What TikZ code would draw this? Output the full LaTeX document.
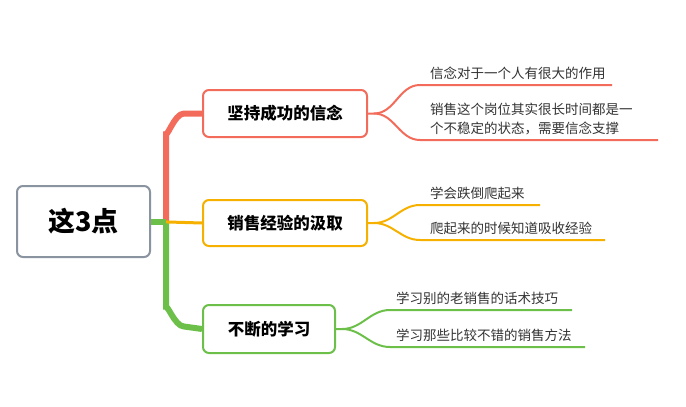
\documentclass[tikz,border=0pt]{standalone}
\usepackage{fontspec}
\setmainfont{Noto Sans CJK SC}
\definecolor{cr}{HTML}{F26B5B}
\definecolor{co}{HTML}{F5B000}
\definecolor{cg}{HTML}{6CC04A}
\definecolor{cgr}{HTML}{8A93A0}
\begin{document}
\begin{tikzpicture}[x=1pt,y=-1pt,
  topic/.style={draw=#1,line width=2pt,rounded corners=6pt,fill=white,font=\bfseries\fontsize{16.5}{19}\selectfont,inner sep=0pt},
  leaf/.style={font=\fontsize{13.5}{19}\selectfont,anchor=south west,inner sep=1pt,align=left,text=black!80},
  ul/.style={line width=2pt,#1}]
\useasboundingbox (0,0) rectangle (686,407);
\node[draw=cgr,line width=2pt,rounded corners=6pt,minimum width=133pt,minimum height=71pt,font=\bfseries\fontsize{27}{30}\selectfont] (root) at (83.5,221.5) {这3点};
\node[topic=cr,minimum width=164pt,minimum height=47pt] (t1) at (285,113.5) {坚持成功的信念};
\node[topic=co,minimum width=164pt,minimum height=46pt] (t2) at (285,223) {销售经验的汲取};
\node[topic=cg,minimum width=132pt,minimum height=48pt] (t3) at (269,329) {不断的学习};
% trunk
\draw[cr,line width=6pt] (root.east) ++(15,0) coordinate (j) -- ++(0,-90) to[out=-90,in=180] ++(18,-18) -- (t1.west);
\draw[cg,line width=6pt] (j) -- ++(0,88) to[out=90,in=180] ++(18,17) -- (t3.west);
\draw[co,line width=3pt] (root.east) -- (t2.west);
\draw[cg,line width=6pt] (root.east) -- (j);
% leaves 1
\coordinate (a1) at (420,85); \coordinate (b1) at (612,85);
\coordinate (a2) at (420,140); \coordinate (b2) at (658,140);
\draw[ul=cr] (t1.east) -- ++(6,0) coordinate (s1) to[out=0,in=180] (a1) -- (b1);
\draw[ul=cr] (s1) to[out=0,in=180] (a2) -- (b2);
\node[leaf] (l1) at ([shift={(9,-4)}]a1) {信念对于一个人有很大的作用};
\node[leaf] (l2) at ([shift={(9,-4)}]a2) {销售这个岗位其实很长时间都是一\\个不稳定的状态，需要信念支撑};
% leaves 2
\coordinate (c1) at (420,205); \coordinate (d1) at (540,205);
\coordinate (c2) at (420,240); \coordinate (d2) at (605,240);
\draw[ul=co] (t2.east) -- ++(6,0) coordinate (s2) to[out=0,in=180] (c1) -- (d1);
\draw[ul=co] (s2) to[out=0,in=180] (c2) -- (d2);
\node[leaf] (l3) at ([shift={(9,-4)}]c1) {学会跌倒爬起来};
\node[leaf] (l4) at ([shift={(9,-4)}]c2) {爬起来的时候知道吸收经验};
% leaves 3
\coordinate (e1) at (390,310); \coordinate (f1) at (572,310);
\coordinate (e2) at (390,347); \coordinate (f2) at (585,347);
\draw[ul=cg] (t3.east) -- ++(6,0) coordinate (s3) to[out=0,in=180] (e1) -- (f1);
\draw[ul=cg] (s3) to[out=0,in=180] (e2) -- (f2);
\node[leaf] (l5) at ([shift={(5,-4)}]e1) {学习别的老销售的话术技巧};
\node[leaf] (l6) at ([shift={(5,-4)}]e2) {学习那些比较不错的销售方法};
\end{tikzpicture}
\end{document}
